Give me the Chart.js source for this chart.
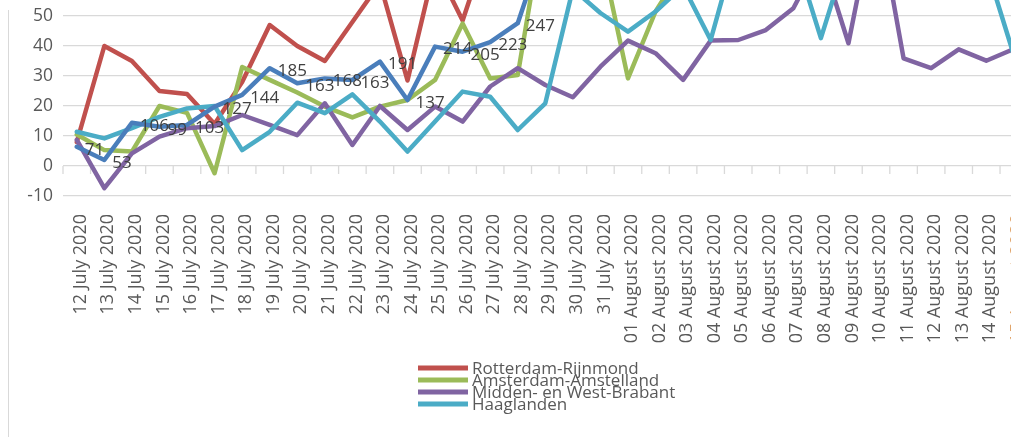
<!DOCTYPE html>
<html>
<head>
    <meta charset="utf-8" />
    <style>
        html, body { margin: 0; padding: 0; background: #fff; overflow: hidden; }
        body { width: 1011px; height: 437px; position: relative; }
        #wrap { position: absolute; left: 0; top: -30px; width: 1040px; height: 467px; }
        #frame { position: absolute; left: 8px; top: 10px; height: 427px; border-left: 1px solid #d9d9d9; }
    </style>
</head>
<body>
    <div id="wrap"><canvas id="chart" width="1040" height="467"></canvas></div>
    <div id="frame"></div>

    <script src="https://cdn.jsdelivr.net/npm/chart.js"></script>
    <script type="text/javascript">
        // categorias (dias)
        var categories = [
            '12 July 2020', '13 July 2020', '14 July 2020', '15 July 2020', '16 July 2020',
            '17 July 2020', '18 July 2020', '19 July 2020', '20 July 2020', '21 July 2020',
            '22 July 2020', '23 July 2020', '24 July 2020', '25 July 2020', '26 July 2020',
            '27 July 2020', '28 July 2020', '29 July 2020', '30 July 2020', '31 July 2020',
            '01 August 2020', '02 August 2020', '03 August 2020', '04 August 2020', '05 August 2020',
            '06 August 2020', '07 August 2020', '08 August 2020', '09 August 2020', '10 August 2020',
            '11 August 2020', '12 August 2020', '13 August 2020', '14 August 2020', '15 August 2020'
        ];

        // series (valores por encima de ~55 quedan fuera de la imagen)
        var rotterdam = [8, 40, 35, 25, 24, 14, 28, 47, 40, 35, 48, 61, 28.5, 67, 48.5, 76, 82, 88, 79, 85,
            92, 80, 74, 86, 95, 88, 97, 90, 84, 99, 93, 87, 96, 102, 94];
        var amsterdam = [10.5, 5.3, 4.8, 20, 17.7, -2.4, 33, 28.7, 24.5, 19.8, 16.2, 19.8, 22, 28.7, 47.5, 29.2, 30.3, 85, 78, 72,
            29.2, 51.5, 66, 74, 81, 77, 88, 84, 91, 86, 95, 89, 97, 92, 100];
        var brabant = [8.7, -7.4, 4.2, 9.8, 12.6, 13.3, 17, 13.7, 10.3, 20.9, 7, 20, 12, 19.8, 14.8, 26.5, 32.6, 27, 22.9, 33.1,
            41.8, 37.6, 28.7, 41.8, 42, 45.3, 52.6, 70, 40.9, 87, 35.9, 32.6, 38.9, 35.1, 39];
        var haaglanden = [11.4, 9.2, 12.6, 16.4, 19.2, 20, 5.3, 11.4, 21.1, 17.6, 23.9, 14.8, 4.8, 14.8, 24.8, 23.1, 12, 20.9, 59, 51,
            44.8, 51.5, 60, 42, 75, 80, 72, 42.6, 72, 78, 70, 76, 82, 66.6, 37];
        var totaal = [6.4, 2, 14.4, 13.1, 13.7, 19.8, 23.7, 32.6, 27.6, 29.2, 28.7, 34.8, 22, 39.8, 38.1, 41.3, 47.6, 75, 80, 85,
            78, 90, 86, 95, 88, 92, 99, 96, 104, 98, 93, 101, 97, 106, 100];
        // etiquetas de la serie azul
        var totaalLabels = [71, 53, 106, 99, 103, 127, 144, 185, 163, 168, 163, 191, 137, 214, 205, 223, 247];

        var yTicks = { min: -10, max: 60, step: 10 };
        var legendNames = ['Rotterdam-Rijnmond', 'Amsterdam-Amstelland', 'Midden- en West-Brabant', 'Haaglanden'];

        Chart.defaults.font.family = "'Open Sans', sans-serif";

        // marcas pequeñas sobre la linea del cero
        var zeroTicks = {
            id: 'zeroTicks',
            beforeDatasetsDraw: function (chart) {
                var x = chart.scales.x, y = chart.scales.y, ctx = chart.ctx;
                var y0 = y.getPixelForValue(0);
                var half = (x.getPixelForValue(1) - x.getPixelForValue(0)) / 2;
                ctx.save();
                ctx.strokeStyle = '#d9d9d9';
                ctx.lineWidth = 1.3;
                ctx.beginPath();
                for (var i = 0; i <= categories.length; i++) {
                    var px = x.getPixelForValue(i) - half;
                    ctx.moveTo(px, y0);
                    ctx.lineTo(px, y0 + 8);
                }
                ctx.stroke();
                ctx.restore();
            }
        };

        // etiquetas de datos a la derecha de los puntos azules
        var blueLabels = {
            id: 'blueLabels',
            afterDatasetsDraw: function (chart) {
                var meta = chart.getDatasetMeta(4), ctx = chart.ctx;
                ctx.save();
                ctx.font = "17px 'Open Sans'";
                ctx.fillStyle = '#404040';
                ctx.textAlign = 'left';
                ctx.textBaseline = 'middle';
                totaalLabels.forEach(function (t, i) {
                    var p = meta.data[i];
                    ctx.fillText(String(t), p.x + 8, p.y + 3);
                });
                ctx.restore();
            }
        };

        // leyenda apretada abajo
        var tightLegend = {
            id: 'tightLegend',
            afterDraw: function (chart) {
                var ctx = chart.ctx, area = chart.chartArea;
                var left = area.left + 355, top = area.bottom + 172;
                ctx.save();
                ctx.font = "17px 'Open Sans'";
                ctx.textAlign = 'left';
                ctx.textBaseline = 'middle';
                legendNames.forEach(function (name, i) {
                    var y = top + i * 12;
                    ctx.fillStyle = chart.data.datasets[i].borderColor;
                    ctx.fillRect(left, y - 2.5, 50, 5);
                    ctx.fillStyle = '#595959';
                    ctx.fillText(name, left + 54, y + 1);
                });
                ctx.restore();
            }
        };

        function serie(label, data, color, order) {
            return {
                label: label, data: data, borderColor: color, backgroundColor: color,
                borderWidth: 4.5, pointRadius: 0, tension: 0, fill: false,
                borderJoinStyle: 'round', borderCapStyle: 'round', order: order
            };
        }

        var chartInstance = new Chart(document.getElementById('chart').getContext('2d'), {
            type: 'line',
            data: {
                labels: categories,
                datasets: [
                    serie(legendNames[0], rotterdam, '#c0504d', 5),
                    serie(legendNames[1], amsterdam, '#9bbb59', 4),
                    serie(legendNames[2], brabant, '#8064a2', 3),
                    serie(legendNames[3], haaglanden, '#4bacc6', 2),
                    serie('Totaal', totaal, '#4a7ebb', 1)
                ]
            },
            options: {
                responsive: false,
                animation: false,
                layout: { padding: { top: 16, right: 12.4, bottom: 81, left: 0 } },
                plugins: { legend: { display: false }, tooltip: { enabled: false } },
                scales: {
                    x: {
                        offset: true,
                        grid: { display: false, drawTicks: false, offset: true },
                        border: { display: false },
                        ticks: {
                            autoSkip: false, maxRotation: 90, minRotation: 90, padding: 18, labelOffset: 4,
                            font: { size: 18 },
                            color: function (c) { return c.index === categories.length - 1 ? '#e0a46a' : '#595959'; }
                        },
                        afterFit: function (s) { s.height = 160; s.paddingLeft = 0; s.paddingRight = 0; }
                    },
                    y: {
                        min: yTicks.min, max: yTicks.max,
                        ticks: { stepSize: yTicks.step, padding: 10, color: '#595959', font: { size: 17.5 } },
                        grid: { color: '#d9d9d9', lineWidth: 1.3, drawTicks: false },
                        border: { display: false },
                        afterFit: function (s) { s.width = 63; s.paddingTop = 0; s.paddingBottom = 0; }
                    }
                }
            },
            plugins: [zeroTicks, blueLabels, tightLegend]
        });
    </script>
</body>
</html>
